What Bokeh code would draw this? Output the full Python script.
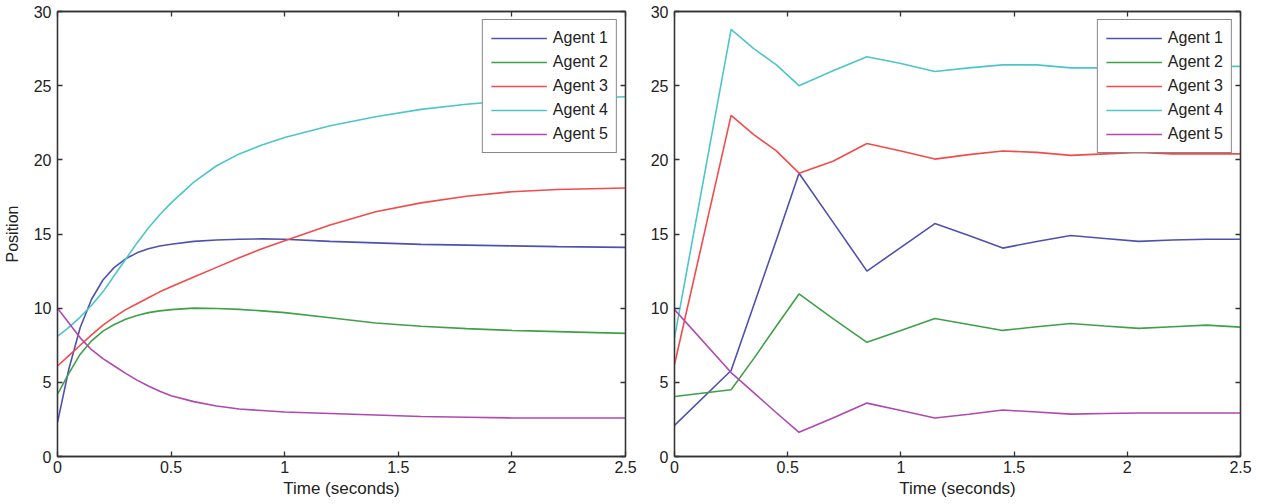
from bokeh.plotting import figure
from bokeh.layouts import row
from bokeh.models import (LinearAxis, FixedTicker, Legend, LegendItem, Range1d,
                          NumeralTickFormatter, CustomLabelingPolicy)
from bokeh.embed import file_html
from bokeh.resources import INLINE

# ---------------- data ----------------
agents = ["Agent 1", "Agent 2", "Agent 3", "Agent 4", "Agent 5"]
colors = ["#4F51B0", "#3FA04A", "#F24B4B", "#4CC6C8", "#B048B0"]

x_ticks = [0, 0.5, 1, 1.5, 2, 2.5]
y_ticks = [0, 5, 10, 15, 20, 25, 30]

# left panel (continuous response)
t_left = [0, 0.05, 0.1, 0.15, 0.2, 0.25, 0.3, 0.35, 0.4, 0.45, 0.5, 0.6, 0.7, 0.8,
          0.9, 1.0, 1.2, 1.4, 1.6, 1.8, 2.0, 2.2, 2.5]
left_agent1 = [2.3, 5.9, 8.7, 10.6, 11.9, 12.75, 13.33, 13.73, 14.01, 14.19, 14.31, 14.5,
               14.6, 14.65, 14.67, 14.65, 14.5, 14.4, 14.3, 14.25, 14.2, 14.15, 14.1]
left_agent2 = [4.2, 5.6, 6.9, 7.8, 8.45, 8.9, 9.25, 9.5, 9.7, 9.82, 9.9, 10.0,
               9.98, 9.92, 9.82, 9.7, 9.35, 9.0, 8.78, 8.62, 8.5, 8.42, 8.3]
left_agent3 = [6.1, 6.8, 7.5, 8.2, 8.85, 9.4, 9.9, 10.3, 10.7, 11.1, 11.45, 12.1,
               12.75, 13.4, 14.0, 14.55, 15.6, 16.5, 17.1, 17.55, 17.85, 18.0, 18.1]
left_agent4 = [8.1, 8.7, 9.4, 10.2, 11.1, 12.2, 13.3, 14.4, 15.4, 16.3, 17.1, 18.5,
               19.6, 20.4, 21.0, 21.5, 22.3, 22.9, 23.4, 23.75, 24.0, 24.1, 24.25]
left_agent5 = [10.0, 9.0, 8.0, 7.2, 6.6, 6.1, 5.6, 5.15, 4.75, 4.4, 4.1, 3.7,
               3.4, 3.2, 3.1, 3.0, 2.9, 2.8, 2.7, 2.65, 2.6, 2.6, 2.6]

# right panel (sampled response)
t_right = [0, 0.25, 0.35, 0.45, 0.55, 0.7, 0.85, 1.0, 1.15, 1.3, 1.45, 1.6,
           1.75, 1.9, 2.05, 2.2, 2.35, 2.5]
right_agent1 = [2.1, 5.8, 10.2, 14.6, 19.1, 15.8, 12.5, 14.1, 15.7, 14.9, 14.05, 14.5,
                14.9, 14.7, 14.5, 14.6, 14.65, 14.65]
right_agent2 = [4.05, 4.5, 6.6, 8.8, 10.96, 9.3, 7.7, 8.5, 9.3, 8.9, 8.5, 8.75,
                8.97, 8.8, 8.64, 8.75, 8.86, 8.72]
right_agent3 = [6.2, 23.0, 21.7, 20.6, 19.1, 19.9, 21.1, 20.6, 20.05, 20.35, 20.6, 20.5,
                20.3, 20.4, 20.5, 20.4, 20.4, 20.4]
right_agent4 = [8.0, 28.8, 27.5, 26.4, 25.0, 26.0, 26.95, 26.5, 25.95, 26.2, 26.4, 26.4,
                26.2, 26.2, 26.3, 26.25, 26.3, 26.3]
right_agent5 = [9.9, 5.66, 4.3, 2.95, 1.63, 2.6, 3.6, 3.1, 2.6, 2.85, 3.13, 3.0,
                2.86, 2.9, 2.93, 2.93, 2.93, 2.93]

x_label = "Time (seconds)"
y_label = "Position"

FONT = "Liberation Sans"
AXIS_COLOR = "#333333"
TEXT_COLOR = "#222222"

NO_LABELS = CustomLabelingPolicy(code="return new Set()")


def style_axis(ax, ticks, show_labels, fmt=None):
    ax.ticker = FixedTicker(ticks=ticks)
    ax.axis_line_color = AXIS_COLOR
    ax.axis_line_width = 1.3
    ax.major_tick_line_color = AXIS_COLOR
    ax.major_tick_line_width = 1.3
    ax.major_tick_in = 5
    ax.major_tick_out = 0
    ax.minor_tick_line_color = None
    if fmt is not None:
        ax.formatter = fmt
    if show_labels:
        ax.major_label_text_font = FONT
        ax.major_label_text_font_size = "16px"
        ax.major_label_text_color = TEXT_COLOR
    else:
        ax.major_label_policy = NO_LABELS
        ax.major_label_text_font_size = "2px"
        ax.major_label_standoff = 0


def make_fig(t, series, width, bl, br, bt, bb, ylabel):
    p = figure(width=width, height=504, x_range=Range1d(0, 2.5), y_range=Range1d(0, 30),
               output_backend="svg", toolbar_location=None,
               min_border_left=bl, min_border_right=br,
               min_border_top=bt, min_border_bottom=bb)
    p.grid.visible = False
    p.outline_line_color = AXIS_COLOR
    p.outline_line_width = 1.3
    p.background_fill_color = "white"
    p.border_fill_color = "white"

    xa = p.xaxis[0]
    ya = p.yaxis[0]
    style_axis(xa, x_ticks, True, NumeralTickFormatter(format="0.[0]"))
    style_axis(ya, y_ticks, True)
    xa.major_label_standoff = 4
    ya.major_label_standoff = 6
    xa.axis_label = x_label
    xa.axis_label_text_font = FONT
    xa.axis_label_text_font_size = "17px"
    xa.axis_label_text_font_style = "normal"
    xa.axis_label_text_color = TEXT_COLOR
    xa.axis_label_standoff = 3
    if ylabel:
        ya.axis_label = ylabel
        ya.axis_label_text_font = FONT
        ya.axis_label_text_font_size = "16px"
        ya.axis_label_text_font_style = "normal"
        ya.axis_label_text_color = TEXT_COLOR
        ya.axis_label_standoff = 10

    top = LinearAxis()
    style_axis(top, x_ticks, False)
    p.add_layout(top, "above")
    right = LinearAxis()
    style_axis(right, y_ticks, False)
    p.add_layout(right, "right")

    items = []
    for name, col, vals in zip(agents, colors, series):
        r = p.line(t, vals, line_color=col, line_width=1.6)
        items.append(LegendItem(label=name, renderers=[r]))
    leg = Legend(items=items, location="top_right")
    leg.margin = 8
    leg.padding = 8
    leg.spacing = 4
    leg.glyph_width = 56
    leg.glyph_height = 20
    leg.label_height = 20
    leg.label_standoff = 6
    leg.label_text_font = FONT
    leg.label_text_font_size = "16px"
    leg.label_text_color = TEXT_COLOR
    leg.border_line_color = "#111111"
    leg.border_line_width = 1.3
    leg.background_fill_color = "white"
    leg.background_fill_alpha = 1.0
    p.add_layout(leg)
    return p


p1 = make_fig(t_left, [left_agent1, left_agent2, left_agent3, left_agent4, left_agent5],
              640, 57, 15, 11, 46, y_label)
p2 = make_fig(t_right, [right_agent1, right_agent2, right_agent3, right_agent4, right_agent5],
              620, 34, 20, 9, 48, None)

layout = row(p1, p2)
open("out.html", "w").write(file_html(layout, INLINE))
